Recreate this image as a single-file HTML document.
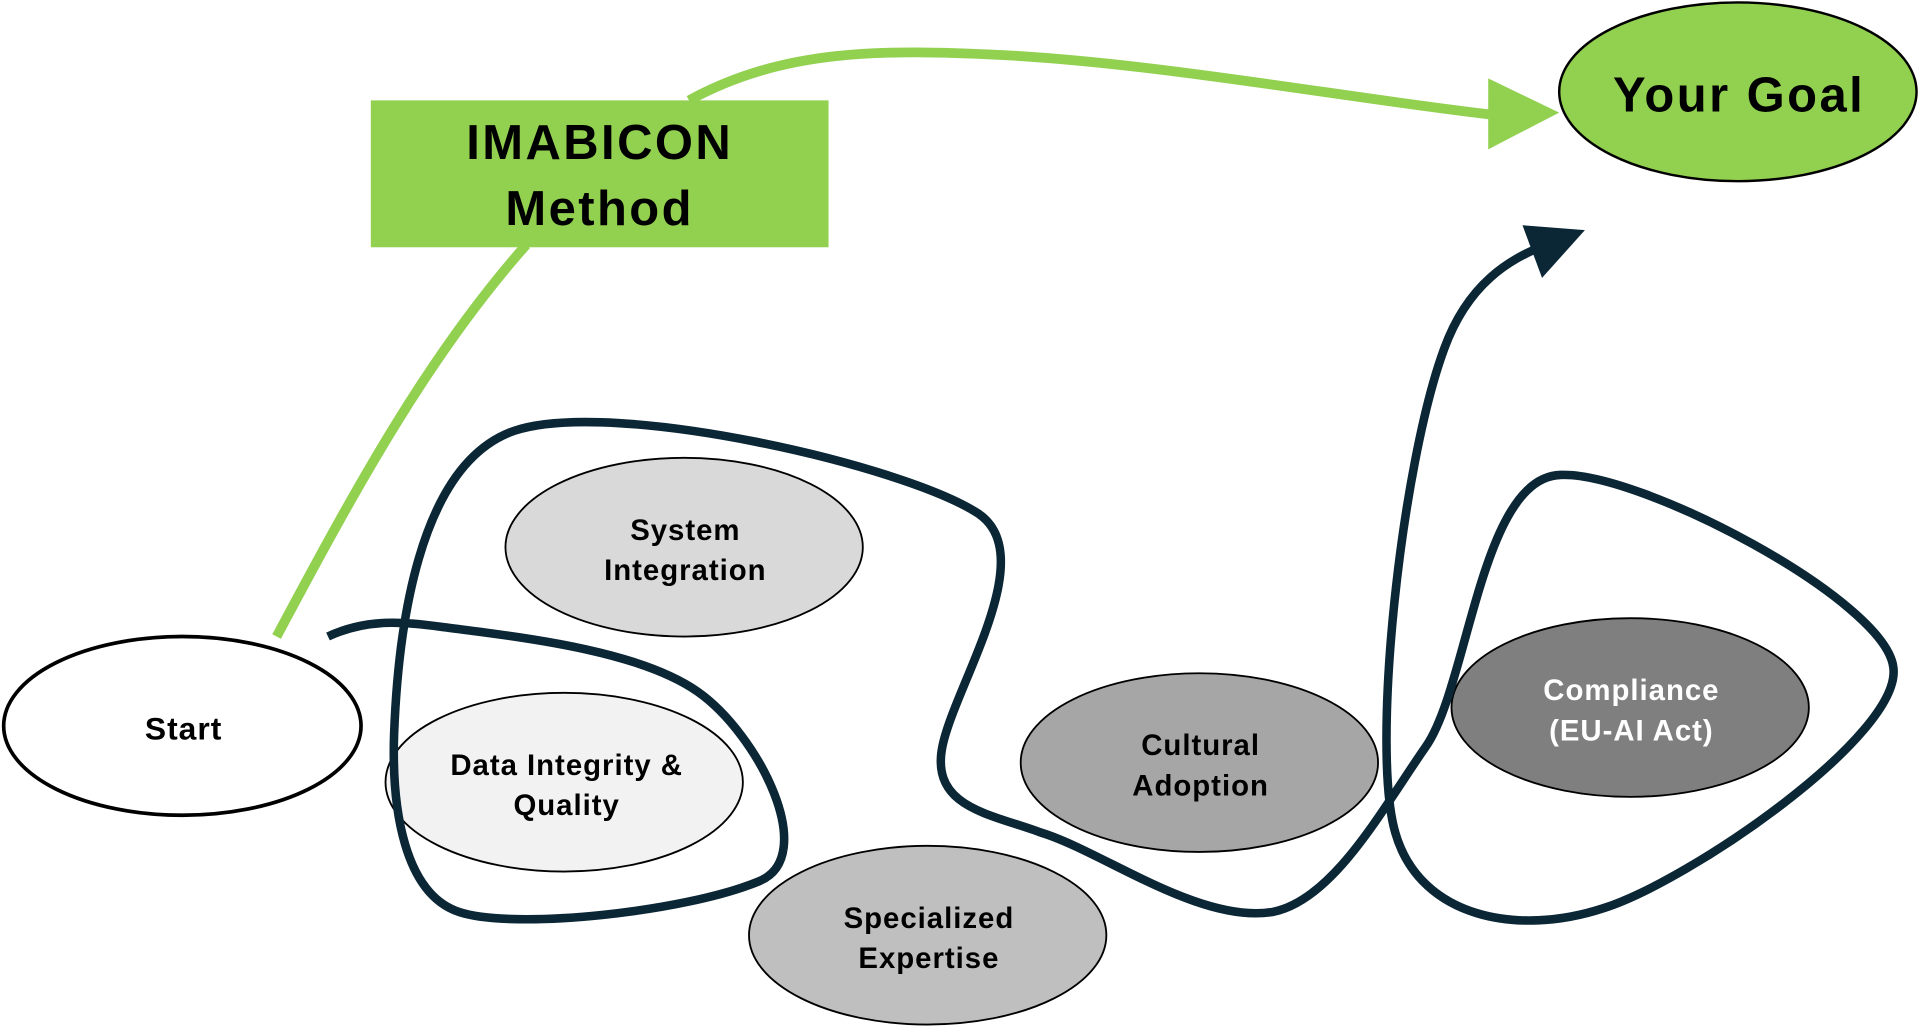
<!DOCTYPE html>
<html><head><meta charset="utf-8"><style>
html,body{margin:0;padding:0;background:#fff;}
svg{display:block;}
text{font-family:"Liberation Sans",sans-serif;font-weight:bold;text-anchor:middle;}
.l{font-size:24px;letter-spacing:0.8px;}
.t{font-size:40px;letter-spacing:2px;}
</style></head><body>
<svg width="1919" height="1027" viewBox="0 0 1568 839" preserveAspectRatio="none">
<rect width="1568" height="839" fill="#fff"/>
<path d="M226,520 C290,400 350,290 430,200" fill="none" stroke="#92d050" stroke-width="8"/>
<path d="M563,82 C640,40 720,40 820,45 C950,52 1100,80 1222,94" fill="none" stroke="#92d050" stroke-width="8"/>
<polygon points="1216,64 1274,92 1216,122" fill="#92d050"/>
<rect x="303" y="82" width="374" height="120" fill="#92d050"/>
<text class="t" x="490" y="130">IMABICON</text>
<text class="t" x="490" y="184">Method</text>
<ellipse cx="1420" cy="75" rx="146" ry="73" fill="#92d050" stroke="#000" stroke-width="2"/>
<text class="t" x="1421" y="91">Your Goal</text>
<ellipse cx="149" cy="593" rx="146" ry="73" fill="#fff" stroke="#000" stroke-width="3"/>
<text class="l" x="150" y="604" style="font-size:26px">Start</text>
<ellipse cx="559" cy="447" rx="146" ry="73" fill="#d9d9d9" stroke="#000" stroke-width="1.5"/>
<text class="l" x="560" y="441">System</text>
<text class="l" x="560" y="474">Integration</text>
<ellipse cx="461" cy="639" rx="146" ry="73" fill="#f2f2f2" stroke="#000" stroke-width="1.5"/>
<text class="l" x="463" y="633">Data Integrity &amp;</text>
<text class="l" x="463" y="666">Quality</text>
<ellipse cx="758" cy="764" rx="146" ry="73" fill="#bfbfbf" stroke="#000" stroke-width="1.5"/>
<text class="l" x="759" y="758">Specialized</text>
<text class="l" x="759" y="791">Expertise</text>
<ellipse cx="980" cy="623" rx="146" ry="73" fill="#a6a6a6" stroke="#000" stroke-width="1.5"/>
<text class="l" x="981" y="617">Cultural</text>
<text class="l" x="981" y="650">Adoption</text>
<ellipse cx="1332" cy="578" rx="146" ry="73" fill="#7f7f7f" stroke="#000" stroke-width="1.5"/>
<text class="l" x="1333" y="572" fill="#fff">Compliance</text>
<text class="l" x="1333" y="605" fill="#fff">(EU-AI Act)</text>
<path d="M268,520 C300,505 330,508 360,512 C420,520 520,530 570,565 C620,600 670,700 620,720 C560,745 420,760 375,745 C330,730 320,660 322,600 C325,520 340,380 420,352 C500,325 740,380 800,420 C850,455 780,560 770,610 C760,660 810,665 850,680 C900,695 980,755 1040,745 C1090,735 1130,660 1165,610 C1200,560 1210,390 1275,388 C1340,385 1540,490 1547,545 C1555,600 1380,720 1310,742 C1240,765 1160,750 1140,680 C1120,610 1145,380 1180,285 C1200,230 1235,212 1258,202" fill="none" stroke="#0b2635" stroke-width="7"/>
<polygon points="1244,184 1295,188 1260,227" fill="#0b2635"/>
</svg>
</body></html>
